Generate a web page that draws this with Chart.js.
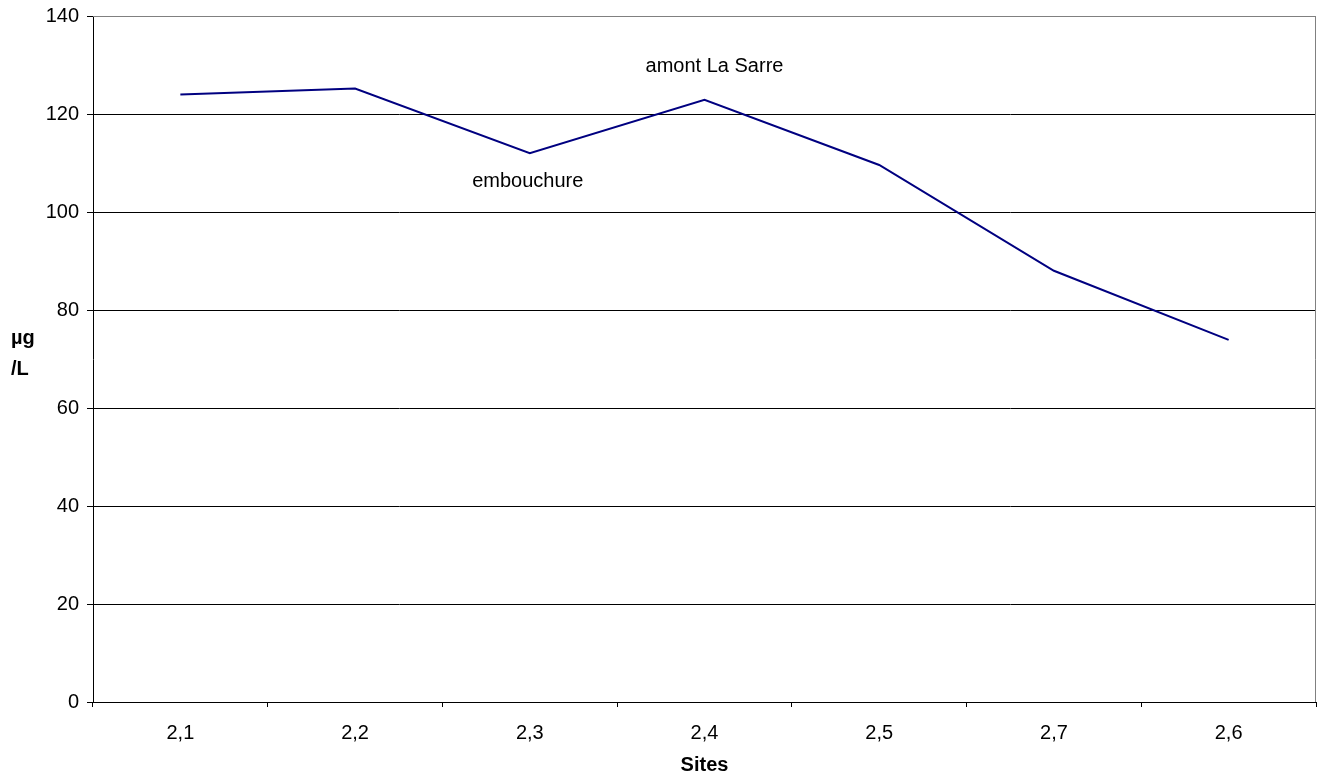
<!DOCTYPE html>
<html>
<head>
<meta charset="utf-8">
<script src="https://cdn.jsdelivr.net/npm/chart.js@4"></script>
<style>
  html, body { margin: 0; padding: 0; background: #fff; }
  #wrap { width: 1317px; height: 776px; }
</style>
</head>
<body>
<div id="wrap"><canvas id="c" width="1317" height="776"></canvas></div>
<script>
// Sampling sites along the river and measured concentration (µg/L)
const sites = ['2,1', '2,2', '2,3', '2,4', '2,5', '2,7', '2,6'];
const concentration = [124.0, 125.2, 112.0, 122.9, 109.6, 88.0, 73.9];
const yTicks = { min: 0, max: 140, step: 20 };
const yTitleLines = ['µg', '/L'];
const xTitle = 'Sites';
// Labelled stations: site index, text, placement relative to the point
const stationNotes = [
  { index: 3, text: 'amont La Sarre', dx: 10, dy: -28 },
  { index: 2, text: 'embouchure', dx: -2, dy: 34 }
];

const FONT = "'Liberation Sans', Arial, sans-serif";

const extras = {
  id: 'extras',
  beforeDatasetsDraw(chart) {
    // grey frame on the top and right of the plot area
    const { ctx, chartArea: a } = chart;
    ctx.save();
    ctx.strokeStyle = '#808080';
    ctx.lineWidth = 1;
    ctx.beginPath();
    ctx.moveTo(a.left, Math.round(a.top) + 0.5);
    ctx.lineTo(Math.round(a.right) - 0.5, Math.round(a.top) + 0.5);
    ctx.lineTo(Math.round(a.right) - 0.5, a.bottom);
    ctx.stroke();
    ctx.restore();
  },
  afterDraw(chart) {
    const { ctx } = chart;
    const xs = chart.scales.x, ys = chart.scales.y;
    ctx.save();
    ctx.fillStyle = '#000';
    ctx.textBaseline = 'alphabetic';
    ctx.font = '20px ' + FONT;
    ctx.textAlign = 'center';
    stationNotes.forEach(n => {
      const px = xs.getPixelForValue(n.index);
      const py = ys.getPixelForValue(concentration[n.index]);
      ctx.fillText(n.text, px + n.dx, py + n.dy);
    });
    // vertical-axis unit, written on two horizontal lines
    ctx.font = 'bold 20px ' + FONT;
    ctx.textAlign = 'left';
    ctx.fillText(yTitleLines[0], 11, 344);
    ctx.fillText(yTitleLines[1], 11, 375);
    ctx.restore();
  }
};

new Chart(document.getElementById('c'), {
  type: 'line',
  data: {
    labels: sites,
    datasets: [{
      data: concentration,
      borderColor: '#000080',
      borderWidth: 2,
      pointRadius: 0,
      tension: 0,
      fill: false
    }]
  },
  options: {
    responsive: false,
    animation: false,
    devicePixelRatio: 1,
    layout: { padding: { top: 16, right: 1, left: 0, bottom: 0 } },
    plugins: { legend: { display: false }, tooltip: { enabled: false } },
    scales: {
      x: {
        type: 'category',
        offset: true,
        grid: {
          offset: true,
          drawOnChartArea: false,
          drawTicks: true,
          tickLength: 5,
          color: '#000',
          tickColor: '#000'
        },
        border: { color: '#000', width: 1 },
        ticks: {
          color: '#000',
          padding: 14,
          maxRotation: 0,
          font: { family: FONT, size: 20 }
        },
        title: {
          display: true,
          text: xTitle,
          color: '#000',
          font: { family: FONT, size: 20, weight: 'bold', lineHeight: 1 },
          padding: { top: 0, bottom: 1 }
        },
        afterFit(scale) {
          scale.height = 74;
          scale.paddingLeft = 0;
          scale.paddingRight = 0;
        }
      },
      y: {
        min: yTicks.min,
        max: yTicks.max,
        grid: {
          color: ctx => (ctx.tick && ctx.tick.value === yTicks.max) ? '#808080' : '#000',
          tickColor: '#000',
          lineWidth: 1,
          drawTicks: true,
          tickLength: 6
        },
        border: { color: '#000', width: 1 },
        ticks: {
          stepSize: yTicks.step,
          color: '#000',
          padding: 8,
          font: { family: FONT, size: 20 }
        },
        afterFit(scale) {
          scale.width = 93;
          scale.paddingTop = 0;
          scale.paddingBottom = 0;
        }
      }
    }
  },
  plugins: [extras]
});
</script>
</body>
</html>
